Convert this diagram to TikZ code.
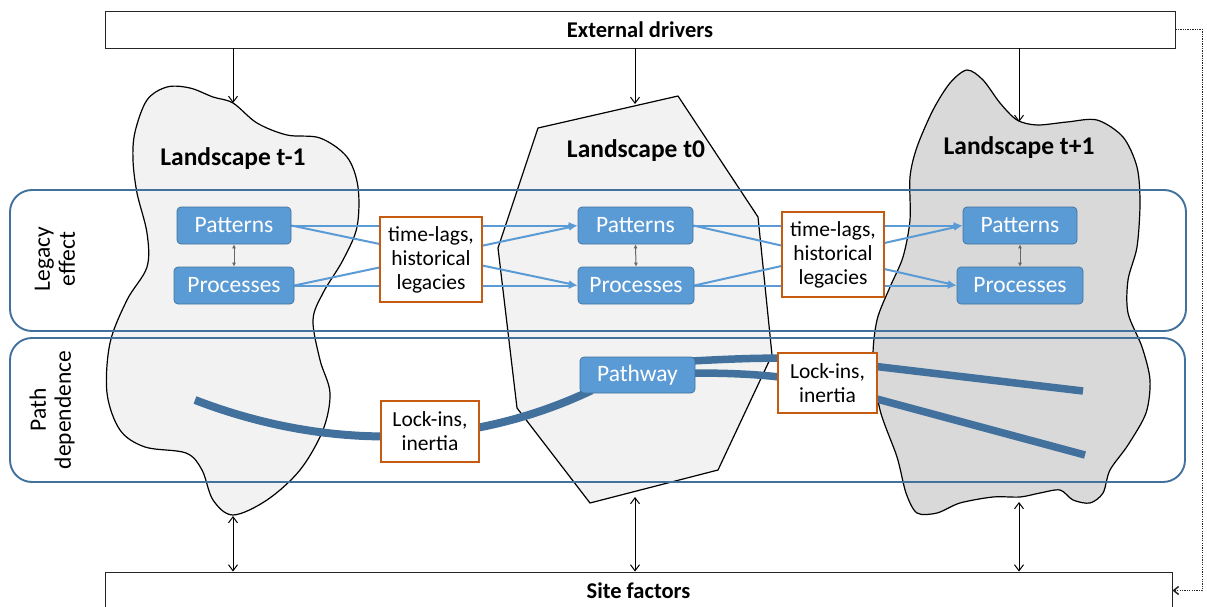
\documentclass[tikz,border=0pt]{standalone}
\usepackage{fontspec}
\setmainfont{Carlito}
\usetikzlibrary{arrows.meta,calc}
\definecolor{groupblue}{HTML}{41719C}
\definecolor{boxblue}{HTML}{5B9BD5}
\definecolor{lagorange}{HTML}{C55A11}
\definecolor{landlight}{HTML}{F2F2F2}
\definecolor{landdark}{HTML}{D9D9D9}
\pgfdeclarelayer{bg}
\pgfdeclarelayer{mid}
\pgfsetlayers{bg,mid,main}
\begin{document}
\begin{tikzpicture}[x=1pt,y=-1pt,
  landscape/.style={draw=black, line width=1.2pt},
  frame/.style={draw=groupblue, line width=1.9pt, rounded corners=22pt},
  grouplabel/.style={rotate=90, align=center, font=\fontsize{23.5}{25}\selectfont},
  driverbox/.style={draw=black!85, line width=0.9pt, fill=white, minimum height=37pt,
    inner sep=0pt, font=\fontsize{22.5}{24}\selectfont\bfseries},
  landlabel/.style={font=\fontsize{25.5}{27}\selectfont\bfseries, inner sep=0pt},
  bluebox/.style={fill=boxblue, draw=groupblue, line width=0.7pt, rounded corners=4pt,
    text=white, minimum height=37pt, inner sep=0pt, font=\fontsize{23.5}{24}\selectfont},
  lagbox/.style={fill=white, draw=lagorange, line width=1.7pt, align=center, inner sep=0pt,
    font=\fontsize{21.5}{24}\selectfont},
  flow/.style={draw=boxblue, line width=2pt, -{Latex[length=9pt,width=7pt]}},
  link/.style={draw=black!60, line width=1pt, {Latex[length=4pt,width=4pt]}-{Latex[length=4pt,width=4pt]}},
  drive/.style={draw=black, line width=1pt, -{Straight Barb[length=6pt,width=9pt]}},
  mutual/.style={draw=black, line width=1pt,
    {Straight Barb[length=6pt,width=9pt]}-{Straight Barb[length=6pt,width=9pt]}},
  track/.style={draw=groupblue, line width=8pt},
  feedback/.style={draw=black!85, line width=1.5pt, dash pattern=on 1.3pt off 1.1pt,
    -{Straight Barb[length=5pt,width=8pt]}}
]
\clip (0,0) rectangle (1207,607);

% ---------- landscapes ----------
\begin{pgfonlayer}{bg}
\fill[white] (0,0) rectangle (1207,607);
\draw[landscape, fill=landlight] plot[smooth cycle, tension=0.55] coordinates {
  (135,132) (147,100) (167,87) (190,88) (213,97) (233,103) (257,123) (287,135)
  (320,138) (347,157) (358,187) (357,227) (343,260) (323,293) (313,320) (320,360)
  (330,393) (323,430) (300,470) (267,500) (233,515) (213,500) (202,470) (186,453)
  (145,447) (120,430) (107,393) (110,343) (127,300) (147,267) (147,233) (137,193)
  (133,160)};
\draw[landscape, fill=landlight, line join=round]
  (538,128) -- (678,96) -- (758,217) -- (772,355) -- (718,470) -- (590,503)
  -- (517,408) -- (498,248) -- cycle;
\draw[landscape, fill=landdark] plot[smooth cycle, tension=0.5] coordinates {
  (967,70) (983,80) (1000,103) (1017,120) (1037,125) (1067,122) (1097,120)
  (1123,137) (1137,167) (1140,203) (1137,247) (1128,280) (1128,313) (1142,347)
  (1150,380) (1146,413) (1128,445) (1110,470) (1103,493) (1090,503) (1073,500)
  (1060,490) (1040,493) (1020,497) (993,497) (960,503) (937,513) (917,513)
  (906,493) (897,457) (880,410) (873,360) (877,320) (890,287) (903,257) (910,220)
  (910,177) (917,147) (933,110) (950,83)};
% group frames
\draw[frame] (10,190) rectangle (1186,331);
\draw[frame] (10,338) rectangle (1185,482);
\end{pgfonlayer}

% ---------- drivers and site ----------
\node[driverbox, minimum width=1070pt] (drivers) at (640,29.5) {External drivers};
\node[driverbox, minimum width=1067pt] (site) at (638.5,590.5) {Site factors};

\coordinate (top1) at (233,103);
\coordinate (top0) at (635,104);
\coordinate (top2) at (1019,122);
\coordinate (bot1) at (233,516);
\coordinate (bot0) at (635,497);
\coordinate (bot2) at (1019,502);
\draw[drive] (drivers.south -| top1) -- (top1);
\draw[drive] (drivers.south -| top0) -- (top0);
\draw[drive] (drivers.south -| top2) -- (top2);
\draw[mutual] (bot1) -- (bot1 |- site.north);
\draw[mutual] (bot0) -- (bot0 |- site.north);
\draw[mutual] (bot2) -- (bot2 |- site.north);
\draw[feedback] (drivers.east) -- ++(27,0) |- (site.east);

% ---------- labels ----------
\node[landlabel] (lab1) at (233,159) {Landscape t-1};
\node[landlabel] (lab0) at (636,151) {Landscape t0};
\node[landlabel] (lab2) at (1019,148) {Landscape t+1};
\node[grouplabel] (legacy) at (55,259) {Legacy\\effect};
\node[grouplabel] (pathdep) at (52,410) {Path\\dependence};

% ---------- patterns and processes ----------
\node[bluebox, minimum width=114pt] (pat1) at (234,225.5) {Patterns};
\node[bluebox, minimum width=120pt] (proc1) at (234,285.5) {Processes};
\node[bluebox, minimum width=115pt] (pat0) at (635.5,225.5) {Patterns};
\node[bluebox, minimum width=116pt] (proc0) at (636,285.5) {Processes};
\node[bluebox, minimum width=114pt] (pat2) at (1020,225.5) {Patterns};
\node[bluebox, minimum width=126pt] (proc2) at (1020,285.5) {Processes};
\node[bluebox, minimum width=115pt, minimum height=36pt] (pw) at (637.5,375) {Pathway};

\node[lagbox, minimum width=102pt, minimum height=85pt] (lag1) at (431,259.5)
  {time-lags,\\historical\\legacies};
\node[lagbox, minimum width=102pt, minimum height=85pt] (lag2) at (833,254.5)
  {time-lags,\\historical\\legacies};
\node[lagbox, minimum width=98pt, minimum height=61pt] (lock1) at (430,431.5)
  {Lock-ins,\\inertia};
\node[lagbox, minimum width=99pt, minimum height=60pt] (lock2) at (827.5,383)
  {Lock-ins,\\inertia};

% ---------- connectors ----------
\begin{pgfonlayer}{mid}
\foreach \a/\b in {pat1/pat0, pat1/proc0, proc1/pat0, proc1/proc0,
                   pat0/pat2, pat0/proc2, proc0/pat2, proc0/proc2}
  \draw[flow] (\a.east) -- (\b.west);
\draw[link] (pat1.south) -- (proc1.north);
\draw[link] (pat0.south) -- (proc0.north);
\draw[link] (pat2.south) -- (proc2.north);

\coordinate (trackstart) at (195,400);
\coordinate (upend) at (1083,391);
\coordinate (lowend) at (1085,455);
\draw[track] (trackstart) .. controls (330,452) and (470,448) .. ($(pw.south west)+(12,-3)$);
\draw[track, line width=7.5pt] ($(pw.east)+(-4,-14)$) .. controls (750,358) and (790,356.5) .. (830,361) -- (upend);
\draw[track, line width=7.5pt] ($(pw.east)+(-4,-2)$) .. controls (745,373) and (790,375.6) .. (830,386.4) -- (lowend);
\end{pgfonlayer}
\end{tikzpicture}
\end{document}
